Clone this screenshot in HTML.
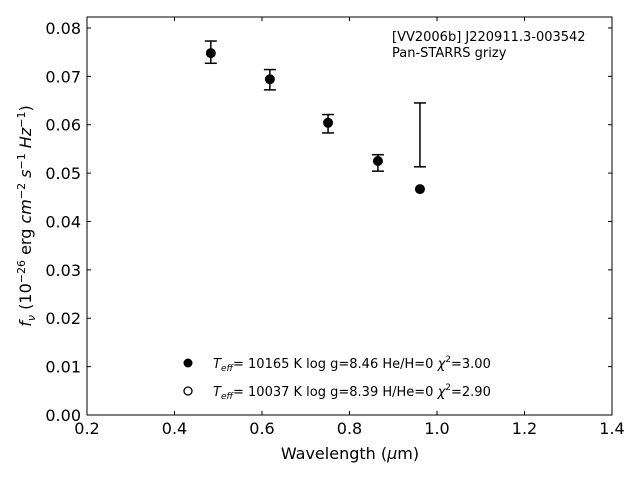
<!DOCTYPE html>
<html><head><meta charset="utf-8"><style>
body{margin:0;background:#fff;}
svg{display:block;font-family:"DejaVu Sans","Liberation Sans",sans-serif;}
</style></head><body>
<svg id="chart" width="640" height="480" viewBox="0 0 640 480">
<rect x="87" y="17" width="525" height="398" fill="none" stroke="#000" stroke-width="1"/>
<g id="ticks"></g>
<g id="marks"></g>
<text x="392" y="41" font-size="13">[VV2006b] J220911.3-003542</text>
<text x="392" y="57" font-size="13">Pan-STARRS grizy</text>
<text x="350" y="459" font-size="16" text-anchor="middle">Wavelength (<tspan font-style="italic">μ</tspan>m)</text>
<text transform="translate(31,216) rotate(-90)" font-size="16" text-anchor="middle"><tspan font-style="italic">f<tspan font-size="11" dy="4">ν</tspan></tspan><tspan dy="-4"> (10</tspan><tspan font-size="11" dy="-6">−26</tspan><tspan dy="6"> erg </tspan><tspan font-style="italic">cm</tspan><tspan font-size="11" dy="-6">−2</tspan><tspan dy="6" font-style="italic"> s</tspan><tspan font-size="11" dy="-6">−1</tspan><tspan dy="6" font-style="italic"> Hz</tspan><tspan font-size="11" dy="-6">−1</tspan><tspan dy="6">)</tspan></text>
<g>
<circle cx="188" cy="363" r="4.5" fill="#000"/>
<text x="213" y="368" font-size="13"><tspan font-style="italic">T</tspan><tspan font-size="9" dy="3" font-style="italic">eff</tspan><tspan dy="-3">= 10165 K  log g=8.46  He/H=0  </tspan><tspan font-style="italic">χ</tspan><tspan font-size="9" dy="-6">2</tspan><tspan dy="6">=3.00</tspan></text>
<circle cx="188" cy="391" r="4" fill="#fff" stroke="#000" stroke-width="1.3"/>
<text x="213" y="396" font-size="13"><tspan font-style="italic">T</tspan><tspan font-size="9" dy="3" font-style="italic">eff</tspan><tspan dy="-3">= 10037 K  log g=8.39  H/He=0  </tspan><tspan font-style="italic">χ</tspan><tspan font-size="9" dy="-6">2</tspan><tspan dy="6">=2.90</tspan></text>
</g>
</svg>
<script>
const wavelengths=[0.483,0.618,0.751,0.865,0.961];
const fluxObs=[0.0750,0.0693,0.0602,0.0521,0.0579];
const fluxErr=[0.0023,0.0021,0.0019,0.0017,0.0066];
const fluxModel=[0.0748,0.0694,0.0604,0.0525,0.0467];
const xTicks=[0.2,0.4,0.6,0.8,1.0,1.2,1.4];
const xTickLabels=["0.2","0.4","0.6","0.8","1.0","1.2","1.4"];
const yTicks=[0,0.01,0.02,0.03,0.04,0.05,0.06,0.07,0.08];
const yTickLabels=["0.00","0.01","0.02","0.03","0.04","0.05","0.06","0.07","0.08"];
const NS="http://www.w3.org/2000/svg";
const X=v=>87+(v-0.2)*437.5;
const Y=v=>415-v*4838;
function mk(tag,attrs,parent){const e=document.createElementNS(NS,tag);for(const k in attrs)e.setAttribute(k,attrs[k]);parent.appendChild(e);return e;}
const tg=document.getElementById('ticks');
xTicks.forEach((t,i)=>{const x=X(t);
 let l=mk('line',{x1:x,x2:x,y1:415,y2:411,stroke:'#000'},tg);
 
 
 let l2=mk('line',{x1:x,x2:x,y1:17,y2:21,stroke:'#000'},tg);
 
 
 let tx=mk('text',{x:x,y:434,'font-size':16,'text-anchor':'middle'},tg);tx.textContent=xTickLabels[i];
 
 
});
yTicks.forEach((t,i)=>{const y=Y(t);
 let l=mk('line',{x1:87,x2:91,y1:y,y2:y,stroke:'#000'},tg);
 
 
 let l2=mk('line',{x1:608,x2:612,y1:y,y2:y,stroke:'#000'},tg);
 
 
 let tx=mk('text',{x:81,y:y+6,'font-size':16,'text-anchor':'end'},tg);tx.textContent=yTickLabels[i];
 
 
});
const mg=document.getElementById('marks');
wavelengths.forEach((w,i)=>{const x=X(w),y1=Y(fluxObs[i]-fluxErr[i]),y2=Y(fluxObs[i]+fluxErr[i]);
 const g=mk('g',{},mg);
 
 
 mk('line',{x1:x,x2:x,y1:y1,y2:y2,stroke:'#000','stroke-width':1.5},g);
 mk('line',{x1:x-6,x2:x+6,y1:y1,y2:y1,stroke:'#000','stroke-width':1.5},g);
 mk('line',{x1:x-6,x2:x+6,y1:y2,y2:y2,stroke:'#000','stroke-width':1.5},g);
 const c=mk('circle',{cx:x,cy:Y(fluxModel[i]),r:5,fill:'#000'},mg);
 
 
});
</script>
</body></html>
